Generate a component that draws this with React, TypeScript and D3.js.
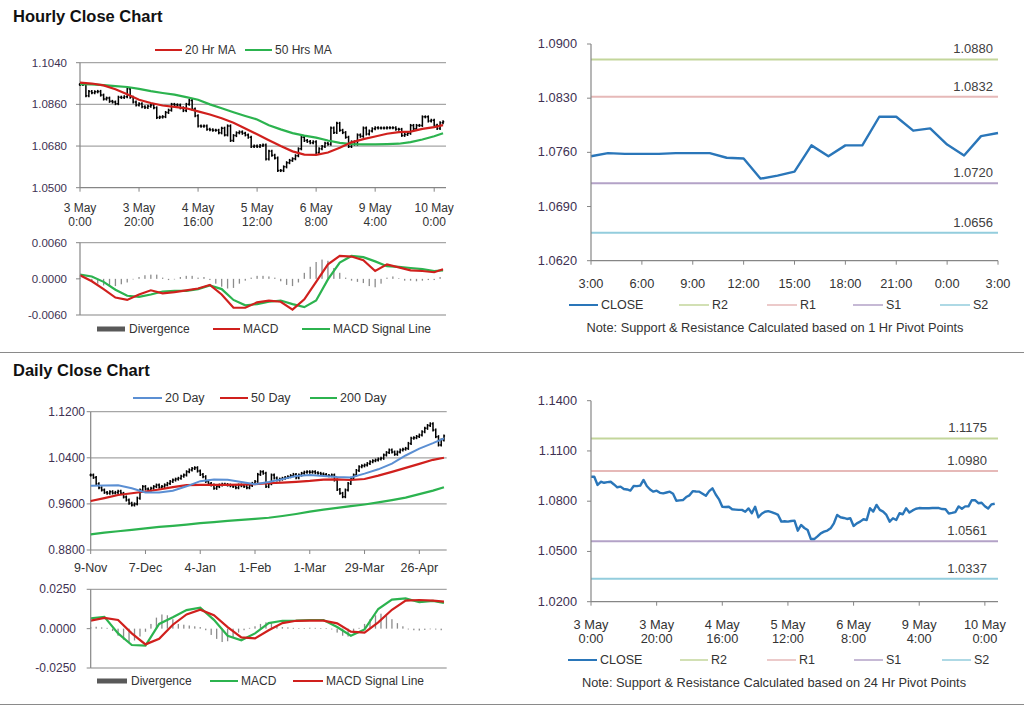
import React from 'react';
import * as d3 from 'd3';

const FONT = '"Liberation Sans", Arial, sans-serif';
const YLAB = '#403152';
const XLAB = '#333333';
const AXIS = '#868686';
const GRID = '#a6a6a6';

// ---------- Hourly data (3 May 0:00 .. 10 May 3:00, trading hours) ----------
const hourlyClose = [
  1.0946, 1.0946, 1.0897, 1.0916, 1.0910, 1.0914, 1.0916, 1.0900, 1.0883, 1.0887,
  1.0873, 1.0870, 1.0863, 1.0891, 1.0890, 1.0893, 1.0927, 1.0891, 1.0870, 1.0857,
  1.0863, 1.0850, 1.0847, 1.0852, 1.0857, 1.0845, 1.0803, 1.0805, 1.0807, 1.0825,
  1.0835, 1.0860, 1.0858, 1.0857, 1.0845, 1.0833, 1.0860, 1.0877, 1.0840, 1.0811,
  1.0767, 1.0765, 1.0767, 1.0752, 1.0750, 1.0748, 1.0748, 1.0737, 1.0757, 1.0728,
  1.0767, 1.0704, 1.0725, 1.0737, 1.0741, 1.0735, 1.0728, 1.0718, 1.0678, 1.0680,
  1.0678, 1.0682, 1.0684, 1.0624, 1.0658, 1.0640, 1.0628, 1.0574, 1.0574, 1.0590,
  1.0608, 1.0618, 1.0625, 1.0638, 1.0668, 1.0718, 1.0704, 1.0700, 1.0694, 1.0698,
  1.0652, 1.0668, 1.0678, 1.0692, 1.0688, 1.0758, 1.0738, 1.0778, 1.0748, 1.0738,
  1.0718, 1.0678, 1.0698, 1.0688, 1.0728, 1.0722, 1.0758, 1.0732, 1.0745, 1.0755,
  1.0759, 1.0758, 1.0758, 1.0758, 1.0759, 1.0759, 1.0759, 1.0753, 1.0752, 1.0726,
  1.0730, 1.0735, 1.0769, 1.0755, 1.0769, 1.0769, 1.0806, 1.0806, 1.0788, 1.0791,
  1.0770, 1.0756, 1.0781, 1.0785,
];
const hourlyTickLabels = [
  ['3 May', '0:00'], ['3 May', '20:00'], ['4 May', '16:00'], ['5 May', '12:00'],
  ['6 May', '8:00'], ['9 May', '4:00'], ['10 May', '0:00'],
];
const hourlyTickIdx = [0, 20, 40, 60, 80, 100, 120];

const maHours = [0, 4, 8, 12, 16, 20, 24, 28, 32, 36, 40, 44, 48, 52, 56, 60, 64, 68, 72, 76, 80, 84, 88, 92, 96, 100, 104, 108, 112, 116, 120, 123];
const ma20h = [1.0954, 1.0950, 1.0942, 1.0925, 1.0904, 1.0880, 1.0866, 1.0855, 1.0849, 1.0843, 1.0830, 1.0816, 1.0800, 1.0781, 1.0756, 1.0731, 1.0705, 1.0680, 1.0657, 1.0643, 1.0642, 1.0652, 1.0673, 1.0696, 1.0710, 1.0721, 1.0733, 1.0740, 1.0742, 1.0754, 1.0762, 1.0770];
const ma50h = [1.0947, 1.0946, 1.0943, 1.0939, 1.0935, 1.0927, 1.0917, 1.0909, 1.0902, 1.0891, 1.0880, 1.0860, 1.0843, 1.0826, 1.0810, 1.0795, 1.0770, 1.0752, 1.0736, 1.0725, 1.0716, 1.0704, 1.0694, 1.0688, 1.0687, 1.0687, 1.0688, 1.0690, 1.0697, 1.0708, 1.0722, 1.0735];
const macdH = [0.0006, -0.0004, -0.0017, -0.0031, -0.0035, -0.0026, -0.0019, -0.0024, -0.0022, -0.0019, -0.0016, -0.0010, -0.0026, -0.0048, -0.0048, -0.0039, -0.0036, -0.0038, -0.0051, -0.0034, -0.0005, 0.0024, 0.0038, 0.0037, 0.0031, 0.0013, 0.0024, 0.0019, 0.0014, 0.0013, 0.0011, 0.0016];
const signalH = [0.0007, 0.0004, -0.0005, -0.0018, -0.0028, -0.0030, -0.0026, -0.0021, -0.0020, -0.0020, -0.0017, -0.0011, -0.0017, -0.0035, -0.0044, -0.0042, -0.0038, -0.0036, -0.0042, -0.0047, -0.0036, -0.0001, 0.0027, 0.0038, 0.0036, 0.0029, 0.0021, 0.0020, 0.0018, 0.0016, 0.0013, 0.0014];
// divergence, one value every 2 hours
const divH = [
  0.0002, 0.0002, -0.0004, -0.0008, -0.0011, -0.0012, -0.0012, -0.0009, -0.0006, 0.0000,
  0.0003, 0.0006, 0.0007, 0.0007, 0.0002, -0.0002, -0.0001, 0.0003, 0.0005, 0.0005,
  0.0002, 0.0003, -0.0002, -0.0008, -0.0013, -0.0016, -0.0015, -0.0008, -0.0003, 0.0002,
  0.0005, 0.0005, 0.0004, 0.0002, -0.0004, -0.0010, -0.0012, -0.0006, 0.0010, 0.0020,
  0.0028, 0.0032, 0.0030, 0.0018, 0.0010, 0.0002, -0.0003, -0.0005, -0.0007, -0.0012,
  -0.0014, -0.0008, 0.0002, 0.0004, 0.0001, -0.0003, -0.0003, -0.0004, -0.0003, -0.0002,
  -0.0002, 0.0003,
];

// ---------- Last 24 hours pivots (1 Hr) ----------
const lastDayStart = 99;
const lastDayTicks = ['3:00', '6:00', '9:00', '12:00', '15:00', '18:00', '21:00', '0:00', '3:00'];
const pivot1 = [
  { name: 'R2', value: 1.0880, color: '#c3d69b' },
  { name: 'R1', value: 1.0832, color: '#e6b9b8' },
  { name: 'S1', value: 1.0720, color: '#b3a2c7' },
  { name: 'S2', value: 1.0656, color: '#93cddd' },
];
const pivot24 = [
  { name: 'R2', value: 1.1175, color: '#c3d69b' },
  { name: 'R1', value: 1.0980, color: '#e6b9b8' },
  { name: 'S1', value: 1.0561, color: '#b3a2c7' },
  { name: 'S2', value: 1.0337, color: '#93cddd' },
];

// ---------- Daily data (9-Nov .. 10-May, trading days) ----------
const dailyClose = [
  1.0101, 1.0060, 0.9950, 0.9880, 0.9841, 0.9800, 0.9783, 0.9812, 0.9790, 0.9800,
  0.9820, 0.9783, 0.9720, 0.9667, 0.9610, 0.9580, 0.9600, 0.9700, 0.9841, 0.9900,
  0.9860, 0.9841, 0.9870, 0.9900, 0.9927, 0.9890, 0.9900, 0.9930, 0.9956, 0.9990,
  1.0014, 1.0030, 1.0044, 1.0080, 1.0101, 1.0158, 1.0190, 1.0216, 1.0228, 1.0170,
  1.0110, 1.0072, 0.9990, 0.9956, 0.9927, 0.9870, 0.9900, 0.9927, 0.9940, 0.9935,
  0.9927, 0.9915, 0.9900, 0.9880, 0.9927, 0.9916, 0.9900, 0.9880, 0.9920, 0.9956,
  0.9990, 1.0112, 1.0158, 1.0130, 0.9900, 0.9950, 1.0101, 1.0050, 1.0014, 1.0030,
  1.0044, 1.0060, 1.0072, 1.0090, 1.0112, 1.0055, 1.0100, 1.0130, 1.0150, 1.0158,
  1.0150, 1.0158, 1.0140, 1.0130, 1.0120, 1.0112, 1.0095, 1.0089, 1.0101, 1.0014,
  0.9850, 0.9783, 0.9725, 0.9841, 0.9956, 1.0044, 1.0101, 1.0180, 1.0245, 1.0260,
  1.0274, 1.0300, 1.0332, 1.0350, 1.0361, 1.0380, 1.0391, 1.0448, 1.0490, 1.0535,
  1.0500, 1.0460, 1.0500, 1.0535, 1.0550, 1.0563, 1.0650, 1.0738, 1.0749, 1.0770,
  1.0795, 1.0850, 1.0911, 1.0960, 1.0990, 1.0883, 1.0767, 1.0622, 1.0709, 1.0780,
];
const dailyTickLabels = ['9-Nov', '7-Dec', '4-Jan', '1-Feb', '1-Mar', '29-Mar', '26-Apr'];
const dailyTickIdx = [0, 20, 40, 60, 80, 100, 120];
const maDays = [0, 5, 10, 15, 20, 25, 30, 35, 40, 45, 50, 55, 60, 65, 70, 75, 80, 85, 90, 95, 100, 105, 110, 115, 120, 125, 129];
const ma20d = [0.9915, 0.9920, 0.9925, 0.9870, 0.9800, 0.9800, 0.9830, 0.9905, 0.9995, 1.0025, 1.0020, 0.9980, 0.9940, 0.9980, 1.0030, 1.0085, 1.0101, 1.0085, 1.0065, 1.0060, 1.0125, 1.0200, 1.0300, 1.0440, 1.0560, 1.0655, 1.0738];
const ma50d = [0.9650, 0.9700, 0.9755, 0.9785, 0.9815, 0.9850, 0.9890, 0.9925, 0.9930, 0.9930, 0.9930, 0.9935, 0.9944, 0.9958, 0.9970, 0.9983, 0.9998, 1.0020, 1.0025, 1.0015, 1.0032, 1.0090, 1.0155, 1.0225, 1.0295, 1.0365, 1.0401];
const ma200d = [0.9072, 0.9100, 0.9125, 0.9150, 0.9175, 0.9200, 0.9220, 0.9240, 0.9265, 0.9285, 0.9305, 0.9322, 0.9340, 0.9360, 0.9390, 0.9425, 0.9465, 0.9500, 0.9530, 0.9560, 0.9590, 0.9625, 0.9665, 0.9710, 0.9770, 0.9830, 0.9890];
const macdD = [0.0066, 0.0075, -0.0030, -0.0104, -0.0108, 0.0030, 0.0072, 0.0118, 0.0133, 0.0056, -0.0045, -0.0074, -0.0030, 0.0035, 0.0050, 0.0051, 0.0055, 0.0055, 0.0010, -0.0045, -0.0005, 0.0125, 0.0184, 0.0192, 0.0168, 0.0176, 0.0163];
const signalD = [0.0051, 0.0068, 0.0055, -0.0030, -0.0100, -0.0065, 0.0025, 0.0090, 0.0120, 0.0085, 0.0010, -0.0055, -0.0062, -0.0010, 0.0035, 0.0050, 0.0051, 0.0051, 0.0034, -0.0019, -0.0025, 0.0040, 0.0120, 0.0178, 0.0182, 0.0178, 0.0172];
// divergence, one value every 2 days
const divD = [
  0.0010, 0.0012, 0.0008, 0.0005, -0.0015, -0.0045, -0.0070, -0.0085, -0.0075, -0.0050,
  -0.0020, 0.0030, 0.0070, 0.0090, 0.0085, 0.0060, 0.0030, 0.0025, 0.0020, 0.0015,
  0.0010, -0.0010, -0.0040, -0.0065, -0.0085, -0.0080, -0.0055, -0.0025, -0.0010, 0.0005,
  0.0015, 0.0030, 0.0040, 0.0035, 0.0020, 0.0010, 0.0008, 0.0005, 0.0003, 0.0004,
  0.0006, 0.0005, 0.0003, 0.0002, -0.0005, -0.0025, -0.0045, -0.0050, -0.0030, 0.0005,
  0.0030, 0.0060, 0.0085, 0.0095, 0.0080, 0.0060, 0.0035, 0.0015, -0.0005, -0.0010,
  -0.0012, -0.0008, -0.0004, -0.0006, -0.0010,
];

// ---------- helpers ----------
type Scale = d3.ScaleLinear<number, number>;

function pathOf(xs: number[], ys: number[], x: Scale, y: Scale) {
  const ln = d3.line<number>().x((_, i) => x(xs[i])).y((v) => y(v));
  return ln(ys) || '';
}

function YAxis({ y, ticks, x0, labelRight, fmt, gridTo, gridTicks, fs = 11.5 }: {
  y: Scale; ticks: number[]; x0: number; labelRight: number; fmt: (v: number) => string; gridTo?: number; gridTicks?: number[]; fs?: number;
}) {
  const [r0, r1] = y.range();
  return (
    <g>
      {gridTo !== undefined && (gridTicks || []).map((t) => (
        <line key={'g' + t} x1={x0} x2={gridTo} y1={y(t)} y2={y(t)} stroke={GRID} strokeWidth={1.2} />
      ))}
      <line x1={x0} x2={x0} y1={r0} y2={r1} stroke={AXIS} strokeWidth={1.2} />
      {ticks.map((t) => (
        <g key={t}>
          <line x1={x0 - 4} x2={x0} y1={y(t)} y2={y(t)} stroke={AXIS} strokeWidth={1} />
          <text x={labelRight} y={y(t) + 4} textAnchor="end" fontSize={fs} fill={YLAB} fontFamily={FONT}>{fmt(t)}</text>
        </g>
      ))}
    </g>
  );
}

function XAxis({ x, y0, idx, labels, labelY, x1, fs = 12 }: {
  x: Scale; y0: number; idx: number[]; labels: string[][]; labelY: number; x1: number; fs?: number;
}) {
  return (
    <g>
      <line x1={x.range()[0]} x2={x1} y1={y0} y2={y0} stroke={AXIS} strokeWidth={1.2} />
      {idx.map((t, k) => (
        <g key={k}>
          <line x1={x(t)} x2={x(t)} y1={y0} y2={y0 + 4} stroke={AXIS} strokeWidth={1} />
          {labels[k].map((s, j) => (
            <text key={j} x={x(t)} y={labelY + j * 14} textAnchor="middle" fontSize={fs} fill={XLAB} fontFamily={FONT}>{s}</text>
          ))}
        </g>
      ))}
    </g>
  );
}

function Bars({ closes, x, y, w }: { closes: number[]; x: Scale; y: Scale; w: number }) {
  return (
    <g stroke="#000" strokeWidth={1.5}>
      {closes.map((c, i) => {
        const o = i > 0 ? closes[i - 1] : c;
        const px = x(i);
        const hi = y(Math.max(o, c)) - 1.5;
        const lo = y(Math.min(o, c)) + 1.5;
        return (
          <g key={i}>
            <line x1={px} x2={px} y1={hi} y2={lo} />
            <line x1={px - w} x2={px} y1={y(o)} y2={y(o)} />
            <line x1={px} x2={px + w} y1={y(c)} y2={y(c)} />
          </g>
        );
      })}
    </g>
  );
}

function Divergence({ vals, step, x, y, w }: { vals: number[]; step: number; x: Scale; y: Scale; w: number }) {
  return (
    <g fill="#8c8c8c">
      {vals.map((v, k) => {
        const px = x(k * step);
        const a = y(0), b = y(v);
        return <rect key={k} x={px - w / 2} y={Math.min(a, b)} width={w} height={Math.max(0.6, Math.abs(a - b))} />;
      })}
    </g>
  );
}

function LegendLine({ x1, x2, y, color, label, width = 2, fs = 12 }: { x1: number; x2: number; y: number; color: string; label: string; width?: number; fs?: number }) {
  return (
    <g>
      <line x1={x1} x2={x2} y1={y} y2={y} stroke={color} strokeWidth={width} />
      <text x={x2 + 3} y={y + 4} fontSize={fs} fill={XLAB} fontFamily={FONT}>{label}</text>
    </g>
  );
}

function LegendBox({ x1, x2, y, label }: { x1: number; x2: number; y: number; label: string }) {
  return (
    <g>
      <rect x={x1} y={y - 2.5} width={x2 - x1} height={5} fill="#595959" />
      <text x={x2 + 4} y={y + 4} fontSize={12} fill={XLAB} fontFamily={FONT}>{label}</text>
    </g>
  );
}

function PivotPanel({ closes, xIdx, x, y, levels, labelRight, yTicks }: {
  closes: number[]; xIdx: number[]; x: Scale; y: Scale; levels: { name: string; value: number; color: string }[]; labelRight: number; yTicks: number[];
}) {
  const [xa, xb] = x.range();
  return (
    <g>
      {levels.map((l) => (
        <g key={l.name}>
          <line x1={xa} x2={xb} y1={y(l.value)} y2={y(l.value)} stroke={l.color} strokeWidth={2} />
          <text x={labelRight} y={y(l.value) - 6} textAnchor="end" fontSize={13} fill="#404040" fontFamily={FONT}>{l.value.toFixed(4)}</text>
        </g>
      ))}
      <path d={pathOf(xIdx, closes, x, y)} fill="none" stroke="#2a76b9" strokeWidth={2.4} strokeLinejoin="round" />
      <YAxis y={y} ticks={yTicks} x0={xa} labelRight={xa - 14} fmt={(v) => v.toFixed(4)} fs={12.8} />
    </g>
  );
}

export default function App() {
  // ---- top-left hourly price ----
  const xH = d3.scaleLinear().domain([0, 124]).range([80, 446]);
  const yH = d3.scaleLinear().domain([1.05, 1.104]).range([187.7, 62.7]);
  const yHM = d3.scaleLinear().domain([-0.006, 0.006]).range([315, 242.7]);

  // ---- top-right last day ----
  const lastDay = hourlyClose.slice(lastDayStart);
  const lastIdx = lastDay.map((_, i) => i);
  const xL = d3.scaleLinear().domain([0, 24]).range([591, 998]);
  const yL = d3.scaleLinear().domain([1.062, 1.09]).range([260.7, 44]);

  // ---- daily ----
  const xD = d3.scaleLinear().domain([0, 130]).range([90.7, 446.7]);
  const yD = d3.scaleLinear().domain([0.88, 1.12]).range([550, 411.7]);
  const yDM = d3.scaleLinear().domain([-0.025, 0.025]).range([668, 589.3]);

  // ---- bottom-right hourly close ----
  const xB = d3.scaleLinear().domain([0, 124]).range([591, 998]);
  const yB = d3.scaleLinear().domain([1.02, 1.14]).range([601.7, 400.7]);
  const hIdx = hourlyClose.map((_, i) => i);

  const RED = '#d0201d';
  const GREEN = '#2cb34f';

  return (
    <svg width={1024} height={706} style={{ position: 'absolute', left: 0, top: 0, background: '#fff' }} fontFamily={FONT}>
      <rect x={0} y={0} width={1024} height={706} fill="#fff" />
      {/* Titles */}
      <text x={13} y={22} fontSize={16.5} fontWeight="bold" fill="#111">Hourly Close Chart</text>
      <text x={13} y={376} fontSize={16.5} fontWeight="bold" fill="#111">Daily Close Chart</text>
      <line x1={0} x2={1024} y1={352.5} y2={352.5} stroke="#8a8a8a" strokeWidth={1} />
      <line x1={0} x2={1024} y1={704.5} y2={704.5} stroke="#8a8a8a" strokeWidth={1} />

      {/* ===== Hourly price (top-left) ===== */}
      <LegendLine x1={155} x2={182} y={50} color={RED} label="20 Hr MA" />
      <LegendLine x1={245} x2={272} y={50} color={GREEN} label="50 Hrs MA" />
      <YAxis y={yH} ticks={[1.05, 1.068, 1.086, 1.104]} x0={80} labelRight={67} fmt={(v) => v.toFixed(4)} gridTo={446} gridTicks={[1.068, 1.086, 1.104]} />
      <Bars closes={hourlyClose} x={xH} y={yH} w={1.2} />
      <path d={pathOf(maHours, ma50h, xH, yH)} fill="none" stroke={GREEN} strokeWidth={2.2} />
      <path d={pathOf(maHours, ma20h, xH, yH)} fill="none" stroke={RED} strokeWidth={2.2} />
      <XAxis x={xH} y0={187.7} idx={hourlyTickIdx} labels={hourlyTickLabels} labelY={212} x1={446} />

      {/* ===== Hourly MACD ===== */}
      <line x1={80} x2={446} y1={242.7} y2={242.7} stroke={GRID} strokeWidth={1.2} />
      <line x1={80} x2={446} y1={315} y2={315} stroke={AXIS} strokeWidth={1.2} />
      <Divergence vals={divH} step={2} x={xH} y={yHM} w={1.3} />
      <path d={pathOf(maHours, signalH, xH, yHM)} fill="none" stroke={GREEN} strokeWidth={2.2} />
      <path d={pathOf(maHours, macdH, xH, yHM)} fill="none" stroke={RED} strokeWidth={2.2} />
      <YAxis y={yHM} ticks={[-0.006, 0, 0.006]} x0={80} labelRight={67} fmt={(v) => v.toFixed(4)} />
      <LegendBox x1={97} x2={125} y={329} label="Divergence" />
      <LegendLine x1={213} x2={240} y={329} color={RED} label="MACD" />
      <LegendLine x1={302} x2={330} y={329} color={GREEN} label="MACD Signal Line" />

      {/* ===== Top-right: last 24h with 1 Hr pivots ===== */}
      <PivotPanel closes={lastDay} xIdx={lastIdx} x={xL} y={yL} levels={pivot1} labelRight={993} yTicks={[1.062, 1.069, 1.076, 1.083, 1.09]} />
      <XAxis x={xL} y0={260.7} idx={[0, 3, 6, 9, 12, 15, 18, 21, 24]} labels={lastDayTicks.map((s) => [s])} labelY={288} x1={998} fs={12.8} />
      <LegendLine x1={569} x2={598} y={305} color="#2a76b9" label="CLOSE" fs={12.5} />
      <LegendLine x1={679} x2={709} y={305} color="#c3d69b" label="R2" width={1.5} fs={12.5} />
      <LegendLine x1={767} x2={797} y={305} color="#e6b9b8" label="R1" width={1.5} fs={12.5} />
      <LegendLine x1={853} x2={883} y={305} color="#b3a2c7" label="S1" width={1.5} fs={12.5} />
      <LegendLine x1={940} x2={970} y={305} color="#93cddd" label="S2" width={1.5} fs={12.5} />
      <text x={775} y={332} textAnchor="middle" fontSize={12.8} fill={XLAB}>Note: Support &amp; Resistance Calculated based on 1 Hr Pivot Points</text>

      {/* ===== Daily price ===== */}
      <LegendLine x1={133} x2={162} y={398} color="#5b8fd3" label="20 Day" fs={12.5} />
      <LegendLine x1={220} x2={248} y={398} color={RED} label="50 Day" fs={12.5} />
      <LegendLine x1={310} x2={337} y={398} color={GREEN} label="200 Day" fs={12.5} />
      <YAxis y={yD} ticks={[0.88, 0.96, 1.04, 1.12]} x0={90.7} labelRight={85} fmt={(v) => v.toFixed(4)} gridTo={446.7} gridTicks={[0.96, 1.04, 1.12]} fs={12} />
      <Bars closes={dailyClose} x={xD} y={yD} w={1.1} />
      <path d={pathOf(maDays, ma200d, xD, yD)} fill="none" stroke={GREEN} strokeWidth={2.2} />
      <path d={pathOf(maDays, ma50d, xD, yD)} fill="none" stroke={RED} strokeWidth={2.2} />
      <path d={pathOf(maDays, ma20d, xD, yD)} fill="none" stroke="#5b8fd3" strokeWidth={2} />
      <XAxis x={xD} y0={550} idx={dailyTickIdx} labels={dailyTickLabels.map((s) => [s])} labelY={572} x1={446.7} fs={12.5} />

      {/* ===== Daily MACD ===== */}
      <line x1={90.7} x2={446.7} y1={589.3} y2={589.3} stroke={GRID} strokeWidth={1.2} />
      <line x1={90.7} x2={446.7} y1={668} y2={668} stroke={AXIS} strokeWidth={1.2} />
      <Divergence vals={divD} step={2} x={xD} y={yDM} w={1.3} />
      <path d={pathOf(maDays, macdD, xD, yDM)} fill="none" stroke={GREEN} strokeWidth={2.2} />
      <path d={pathOf(maDays, signalD, xD, yDM)} fill="none" stroke={RED} strokeWidth={2.2} />
      <YAxis y={yDM} ticks={[-0.025, 0, 0.025]} x0={90.7} labelRight={76} fmt={(v) => v.toFixed(4)} fs={12} />
      <LegendBox x1={97} x2={127} y={681} label="Divergence" />
      <LegendLine x1={210} x2={238} y={681} color={GREEN} label="MACD" />
      <LegendLine x1={293} x2={323} y={681} color={RED} label="MACD Signal Line" />

      {/* ===== Bottom-right: hourly close with 24 Hr pivots ===== */}
      <PivotPanel closes={hourlyClose} xIdx={hIdx} x={xB} y={yB} levels={pivot24} labelRight={987} yTicks={[1.02, 1.05, 1.08, 1.11, 1.14]} />
      <XAxis x={xB} y0={601.7} idx={hourlyTickIdx} labels={hourlyTickLabels} labelY={629} x1={998} fs={12.8} />
      <LegendLine x1={568} x2={597} y={660} color="#2a76b9" label="CLOSE" fs={12.5} />
      <LegendLine x1={680} x2={708} y={660} color="#c3d69b" label="R2" width={1.5} fs={12.5} />
      <LegendLine x1={767} x2={796} y={660} color="#e6b9b8" label="R1" width={1.5} fs={12.5} />
      <LegendLine x1={854} x2={883} y={660} color="#b3a2c7" label="S1" width={1.5} fs={12.5} />
      <LegendLine x1={942} x2={971} y={660} color="#93cddd" label="S2" width={1.5} fs={12.5} />
      <text x={774} y={687} textAnchor="middle" fontSize={12.8} fill={XLAB}>Note: Support &amp; Resistance Calculated based on 24 Hr Pivot Points</text>
    </svg>
  );
}
